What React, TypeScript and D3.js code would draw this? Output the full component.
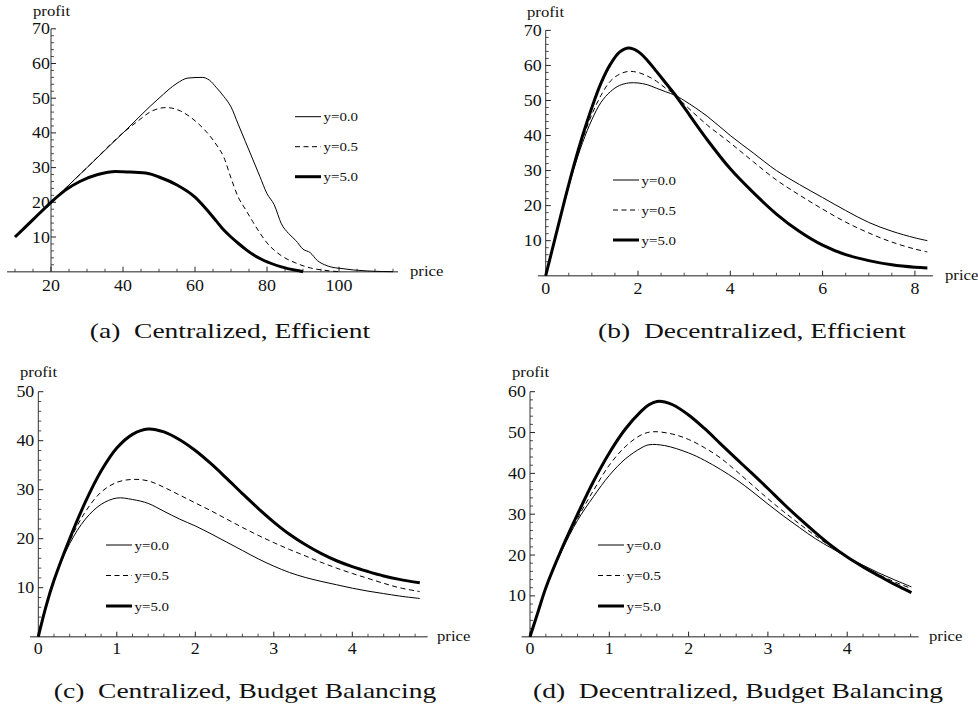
import React from "react";
import * as d3 from "d3";

// ---------- data (price, profit) ----------
const aY00: [number, number][] = [[10,10],[20,20],[30,30],[40,40],[50,50],[55,54.3],[58,55.8],[62,56],[64,55.2],[66,53],[68,50.5],[70,47.5],[72,42.5],[74,37.5],[76,32.5],[78,27.5],[80,22.5],[82,19.3],[84,13.8],[86,11],[88,9],[90,6.5],[92,5.5],[94,3.2],[96,2],[98,1.3],[100,1],[104,0.5],[108,0.2],[112,0.05],[115,0]];
const aY05: [number, number][] = [[10,10],[20,20],[30,30],[40,40],[44,43.3],[48,46.3],[52,47.3],[56,46.3],[60,43.5],[63,40.5],[66,36.5],[68,33],[70,27],[72,21.5],[74,18],[76,14.5],[78,11.2],[80,8.3],[82,6.2],[84,4.6],[88,2.5],[92,1.1],[96,0.4],[100,0]];
const aY50: [number, number][] = [[10,10],[15,15],[20,20],[24,23.5],[28,26],[33,28],[38,28.9],[42,28.7],[47,28.3],[50,27.3],[55,25],[60,21.5],[64,17],[66,14.5],[68,12],[70,10],[72,8.2],[74,6.5],[76,5],[79,3.3],[84,1.4],[88,0.4],[90,0]];

const bY00: [number, number][] = [[0,0],[0.2,10.5],[0.4,20.5],[0.6,30],[0.8,38],[1.0,44.5],[1.2,49.5],[1.4,52.5],[1.6,54.3],[1.8,55],[2.0,55],[2.2,54.5],[2.4,53.5],[2.6,52.5],[2.8,51.5],[3.0,50],[3.5,45.5],[4.0,40],[4.5,35],[5.0,30],[5.5,26],[6.0,22.3],[6.5,18.6],[7.0,15.2],[7.5,12.7],[8.0,10.8],[8.27,10]];
const bY05: [number, number][] = [[0,0],[0.2,10.5],[0.4,21],[0.6,30.5],[0.8,39],[1.0,46],[1.2,51.5],[1.4,55.5],[1.6,57.5],[1.8,58.3],[2.0,58],[2.2,57],[2.4,55.5],[2.6,53.5],[2.8,51.7],[3.0,49],[3.5,43],[4.0,37.9],[4.5,32.5],[5.0,27.3],[5.5,23],[6.0,19],[6.5,15.3],[7.0,12.2],[7.5,9.6],[8.0,7.6],[8.27,6.8]];
const bY50: [number, number][] = [[0,0],[0.2,10.5],[0.4,21],[0.6,31],[0.8,40],[1.0,48],[1.2,55],[1.4,60.3],[1.6,63.8],[1.8,65],[2.0,64],[2.2,61.5],[2.4,58.3],[2.6,55],[2.8,51.7],[3.0,48],[3.5,38.8],[4.0,30.5],[4.5,23.7],[5.0,17.6],[5.5,12.6],[6.0,8.7],[6.5,6.0],[7.0,4.3],[7.5,3.1],[8.0,2.4],[8.27,2.2]];

const cY00: [number, number][] = [[0,0],[0.1,6.3],[0.2,11.5],[0.4,19],[0.6,24],[0.8,27],[1.0,28.3],[1.2,28],[1.4,27.2],[1.6,25.6],[1.8,24],[2.0,22.6],[2.2,21],[2.4,19.3],[2.6,17.6],[2.8,15.9],[3.0,14.4],[3.2,13.1],[3.4,12.1],[3.6,11.3],[3.8,10.6],[4.0,9.9],[4.2,9.3],[4.4,8.8],[4.6,8.3],[4.86,7.8]];
const cY05: [number, number][] = [[0,0],[0.1,6.3],[0.2,11.5],[0.4,19.5],[0.6,25.5],[0.8,29.5],[1.0,31.5],[1.2,32.1],[1.4,31.8],[1.6,30.5],[1.8,28.9],[2.0,27.3],[2.2,25.7],[2.4,24],[2.6,22.3],[2.8,20.7],[3.0,19.2],[3.2,17.8],[3.4,16.5],[3.6,15.2],[3.8,14],[4.0,12.9],[4.2,11.9],[4.4,10.9],[4.6,10],[4.86,9.2]];
const cY50: [number, number][] = [[0,0],[0.1,6.3],[0.2,11.5],[0.4,20],[0.6,27.5],[0.8,33.8],[1.0,38.5],[1.2,41.3],[1.4,42.4],[1.6,41.8],[1.8,40.2],[2.0,38],[2.2,35.3],[2.4,32.3],[2.6,29.2],[2.8,26.2],[3.0,23.4],[3.2,20.9],[3.4,18.8],[3.6,17],[3.8,15.5],[4.0,14.3],[4.2,13.3],[4.4,12.4],[4.6,11.7],[4.86,11]];

const dY00: [number, number][] = [[0,0],[0.2,12],[0.4,21],[0.6,28.5],[0.8,34.3],[1.0,39.5],[1.2,43.5],[1.4,46.2],[1.5,47],[1.7,46.8],[2.0,45],[2.2,43.2],[2.4,41],[2.6,38.5],[2.8,35.6],[3.0,32.5],[3.2,29.5],[3.4,26.7],[3.6,24],[3.8,21.7],[4.0,19.5],[4.2,17.5],[4.4,15.6],[4.6,13.9],[4.81,12.2]];
const dY05: [number, number][] = [[0,0],[0.2,12],[0.4,21.2],[0.6,29],[0.8,35.8],[1.0,42],[1.2,46.5],[1.4,49.4],[1.55,50.2],[1.8,49.6],[2.0,48.3],[2.2,46.3],[2.4,43.8],[2.6,40.6],[2.8,37.2],[3.0,33.8],[3.2,30.6],[3.4,27.6],[3.6,24.7],[3.8,22],[4.0,19.5],[4.2,17.2],[4.4,15.2],[4.6,13.4],[4.81,11.8]];
const dY50: [number, number][] = [[0,0],[0.1,6],[0.2,12],[0.4,21.5],[0.6,30],[0.8,38],[1.0,45],[1.2,50.8],[1.4,55.2],[1.5,56.8],[1.6,57.6],[1.7,57.5],[1.8,56.8],[2.0,54.3],[2.2,51],[2.4,47.3],[2.6,43.6],[2.8,40],[3.0,36.3],[3.2,32.5],[3.4,28.9],[3.6,25.5],[3.8,22.3],[4.0,19.5],[4.2,17.1],[4.4,14.9],[4.6,12.8],[4.81,10.8]];

const legendLabels = ["y=0.0", "y=0.5", "y=5.0"];
const captions = ["(a)\u2002Centralized, Efficient", "(b)\u2002Decentralized, Efficient", "(c)\u2002Centralized, Budget Balancing", "(d)\u2002Decentralized, Budget Balancing"];
const xLabel = "price";
const yLabel = "profit";

// ---------- layout ----------
const FONT = "'Liberation Serif', 'Times New Roman', serif";
const SX = 1.12;
const STYLES = [
  { w: 1, dash: undefined as string | undefined },
  { w: 1, dash: "5,3.5" },
  { w: 3, dash: undefined as string | undefined },
];

type Panel = {
  series: [number, number][][];
  smooth: boolean;
  xDom: [number, number]; xRange: [number, number];
  yMax: number; y0: number; yTop: number;
  axisExt: [number, number];
  xMajor: number[]; xMinorStep: number; xMinorFrom: number; xMinorTo: number;
  yMinorStep: number; yMajorStep: number;
  xLabDy: number; yLabGap: number;
  priceX: number; profitX: number; profitY: number;
  legX: number; legY: number; legGap: number;
  caption: string; capX: number; capY: number;
};

const panels: Panel[] = [
  { series: [aY00, aY05, aY50], smooth: false, xDom: [20, 100], xRange: [51, 339], yMax: 70, y0: 271.7, yTop: 28.8,
    axisExt: [7.8, 116.4], xMajor: [20, 40, 60, 80, 100], xMinorStep: 5, xMinorFrom: 10, xMinorTo: 115,
    yMinorStep: 2, yMajorStep: 10, xLabDy: 19, yLabGap: 1,
    priceX: 410, profitX: 33, profitY: 16, legX: 295, legY: 116.7, legGap: 30,
    caption: captions[0], capX: 230, capY: 338 },
  { series: [bY00, bY05, bY50], smooth: true, xDom: [0, 8], xRange: [545.7, 914.9], yMax: 70, y0: 275.7, yTop: 30.4,
    axisExt: [-0.17, 8.39], xMajor: [0, 2, 4, 6, 8], xMinorStep: 0.5, xMinorFrom: 0.5, xMinorTo: 8,
    yMinorStep: 2, yMajorStep: 10, xLabDy: 18, yLabGap: 4,
    priceX: 945, profitX: 527, profitY: 17, legX: 613, legY: 180, legGap: 30,
    caption: captions[1], capX: 752, capY: 338 },
  { series: [cY00, cY05, cY50], smooth: true, xDom: [0, 4], xRange: [38.3, 352.3], yMax: 50, y0: 636.7, yTop: 391.7,
    axisExt: [-0.105, 4.96], xMajor: [0, 1, 2, 3, 4], xMinorStep: 0.2, xMinorFrom: 0.2, xMinorTo: 4.8,
    yMinorStep: 2, yMajorStep: 10, xLabDy: 17, yLabGap: 4,
    priceX: 437, profitX: 20, profitY: 377, legX: 106, legY: 545, legGap: 30.5,
    caption: captions[2], capX: 245, capY: 697.5 },
  { series: [dY00, dY05, dY50], smooth: true, xDom: [0, 4], xRange: [530, 847.2], yMax: 60, y0: 636.7, yTop: 391.7,
    axisExt: [-0.105, 4.9], xMajor: [0, 1, 2, 3, 4], xMinorStep: 0.2, xMinorFrom: 0.2, xMinorTo: 4.8,
    yMinorStep: 2, yMajorStep: 10, xLabDy: 17, yLabGap: 4,
    priceX: 929, profitX: 512, profitY: 377, legX: 598, legY: 545, legGap: 30.5,
    caption: captions[3], capX: 738, capY: 697.5 },
];

function T(props: { x: number; y: number; anchor?: string; size?: number; sx?: number; children: React.ReactNode; family?: string }) {
  const { x, y, anchor = "start", size = 16, sx = SX, family = FONT } = props;
  return (
    <text transform={`translate(${x},${y}) scale(${sx},1)`} textAnchor={anchor} fontSize={size} fontFamily={family} fill="#111">
      {props.children}
    </text>
  );
}

const fmt = (v: number) => String(Math.round(v * 1000) / 1000);

function PanelView({ p }: { p: Panel }) {
  const x = d3.scaleLinear().domain(p.xDom).range(p.xRange);
  const y = d3.scaleLinear().domain([0, p.yMax]).range([p.y0, p.yTop]);
  const ax = x(p.xDom[0]);
  const line = d3.line<[number, number]>().x((d) => x(d[0])).y((d) => y(d[1]))
    .curve(p.smooth ? d3.curveCatmullRom.alpha(0.5) : d3.curveMonotoneX);

  const xMinor: number[] = [];
  for (let v = p.xMinorFrom; v <= p.xMinorTo + 1e-9; v += p.xMinorStep) {
    const r = Math.round(v * 1000) / 1000;
    if (!p.xMajor.some((m) => Math.abs(m - r) < 1e-6)) xMinor.push(r);
  }
  const yMajor = d3.range(p.yMajorStep, p.yMax + 1e-9, p.yMajorStep);
  const yMinor: number[] = [];
  for (let v = p.yMinorStep; v < p.yMax - 1e-9; v += p.yMinorStep) {
    if (Math.abs(v / p.yMajorStep - Math.round(v / p.yMajorStep)) > 1e-6) yMinor.push(v);
  }
  const axisCol = "#6a6a6a";
  return (
    <g>
      <line x1={x(p.axisExt[0])} x2={x(p.axisExt[1])} y1={p.y0} y2={p.y0} stroke={axisCol} strokeWidth={1.4} />
      <line x1={ax} x2={ax} y1={p.y0} y2={p.yTop} stroke="#333" strokeWidth={1} />
      {p.xMajor.map((v) => (
        <g key={"xM" + v}>
          <line x1={x(v)} x2={x(v)} y1={p.y0} y2={p.y0 - 5} stroke="#222" strokeWidth={1} />
          <T x={x(v)} y={p.y0 + p.xLabDy} anchor="middle">{fmt(v)}</T>
        </g>
      ))}
      {xMinor.map((v) => (
        <line key={"xm" + v} x1={x(v)} x2={x(v)} y1={p.y0} y2={p.y0 - 3} stroke="#222" strokeWidth={0.8} />
      ))}
      {yMajor.map((v) => (
        <g key={"yM" + v}>
          <line x1={ax} x2={ax + 5} y1={y(v)} y2={y(v)} stroke="#222" strokeWidth={1} />
          <T x={ax - p.yLabGap} y={y(v) + 5.5} anchor="end">{fmt(v)}</T>
        </g>
      ))}
      {yMinor.map((v) => (
        <line key={"ym" + v} x1={ax} x2={ax + 3} y1={y(v)} y2={y(v)} stroke="#222" strokeWidth={0.8} />
      ))}
      <T x={p.priceX} y={p.y0 + 4.5} size={14.5} sx={1.15}>{xLabel}</T>
      <T x={p.profitX} y={p.profitY} size={14.5} sx={1.15}>{yLabel}</T>
      {p.series.map((s, i) => (
        <path key={"s" + i} d={line(s) || ""} fill="none" stroke="#000" strokeWidth={STYLES[i].w}
          strokeDasharray={STYLES[i].dash} strokeLinejoin="round" strokeLinecap="butt" />
      ))}
      {legendLabels.map((lab, i) => {
        const ly = p.legY + i * p.legGap;
        return (
          <g key={"lg" + i}>
            <line x1={p.legX} x2={p.legX + 26} y1={ly} y2={ly} stroke="#000" strokeWidth={STYLES[i].w} strokeDasharray={STYLES[i].dash} />
            <T x={p.legX + 28.5} y={ly + 4.5} size={13} sx={1.15}>{lab}</T>
          </g>
        );
      })}
      <T x={p.capX} y={p.capY} anchor="middle" size={22} sx={1.25}>{p.caption}</T>
    </g>
  );
}

export default function App() {
  return (
    <svg width={978} height={709} viewBox="0 0 978 709" style={{ position: "absolute", left: 0, top: 0, background: "#fff" }}>
      <rect width={978} height={709} fill="#fff" />
      {panels.map((p, i) => (
        <PanelView key={i} p={p} />
      ))}
    </svg>
  );
}
